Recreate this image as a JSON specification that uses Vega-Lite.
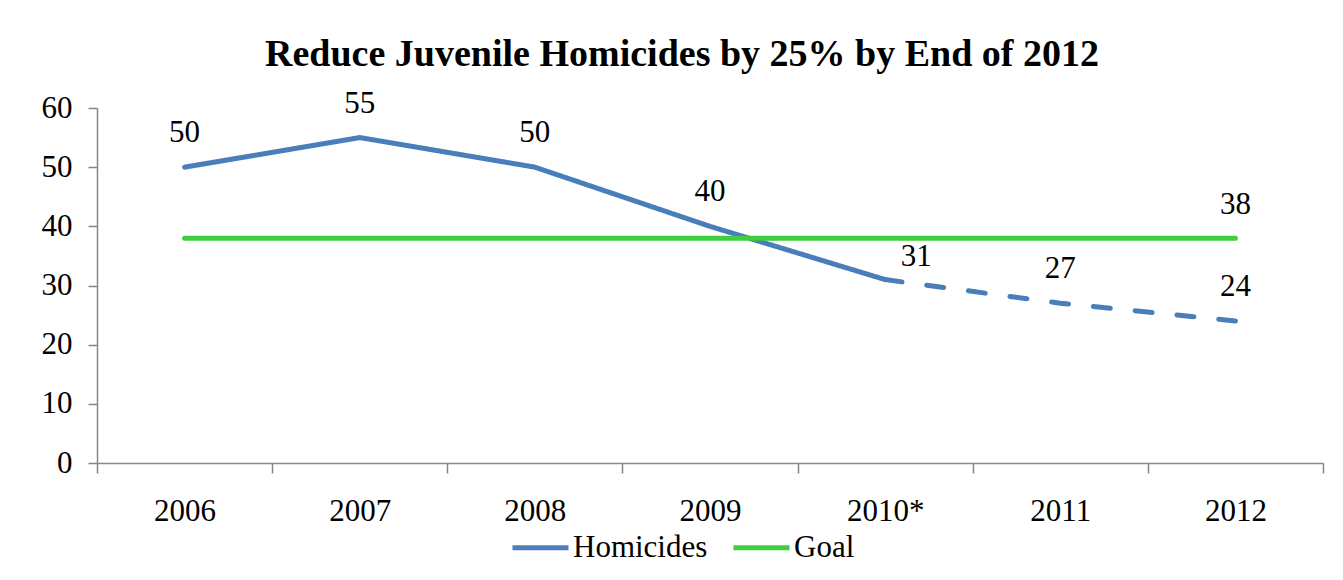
{
  "$schema": "https://vega.github.io/schema/vega-lite/v6.json",
  "width": 1226,
  "height": 355,
  "autosize": "none",
  "padding": {"left": 97, "top": 108, "right": 20, "bottom": 117},
  "background": "white",
  "title": {
    "text": "Reduce Juvenile Homicides by 25% by End of 2012",
    "font": "Liberation Serif",
    "fontSize": 38,
    "fontWeight": "bold",
    "color": "black",
    "anchor": "middle",
    "dx": -28,
    "offset": 14
  },
  "config": {
    "view": {"stroke": null},
    "font": "Liberation Serif"
  },
  "data": {
    "values": [
      {"year": "2006", "value": 50, "series": "Homicides", "part": "actual"},
      {"year": "2007", "value": 55, "series": "Homicides", "part": "actual"},
      {"year": "2008", "value": 50, "series": "Homicides", "part": "actual"},
      {"year": "2009", "value": 40, "series": "Homicides", "part": "actual"},
      {"year": "2010*", "value": 31, "series": "Homicides", "part": "actual"},
      {"year": "2010*", "value": 31, "series": "Homicides", "part": "projected"},
      {"year": "2011", "value": 27, "series": "Homicides", "part": "projected"},
      {"year": "2012", "value": 24, "series": "Homicides", "part": "projected"},
      {"year": "2006", "value": 38, "series": "Goal", "part": "actual"},
      {"year": "2007", "value": 38, "series": "Goal", "part": "actual"},
      {"year": "2008", "value": 38, "series": "Goal", "part": "actual"},
      {"year": "2009", "value": 38, "series": "Goal", "part": "actual"},
      {"year": "2010*", "value": 38, "series": "Goal", "part": "actual"},
      {"year": "2011", "value": 38, "series": "Goal", "part": "actual"},
      {"year": "2012", "value": 38, "series": "Goal", "part": "actual"}
    ]
  },
  "encoding": {
    "x": {
      "field": "year",
      "type": "nominal",
      "sort": null,
      "scale": {"type": "band", "domain": ["2006", "2007", "2008", "2009", "2010*", "2011", "2012"], "paddingInner": 0, "paddingOuter": 0},
      "axis": {
        "title": null,
        "labelAngle": 0,
        "tickBand": "extent",
        "tickSize": 10,
        "tickWidth": 1.5,
        "tickColor": "#868686",
        "domainColor": "#868686",
        "domainWidth": 1.5,
        "labelFont": "Liberation Serif",
        "labelFontSize": 31,
        "labelColor": "black",
        "labelPadding": 23,
        "grid": false
      }
    },
    "y": {
      "field": "value",
      "type": "quantitative",
      "scale": {"domain": [0, 60], "nice": false, "zero": true},
      "axis": {
        "title": null,
        "values": [0, 10, 20, 30, 40, 50, 60],
        "tickSize": 9,
        "tickWidth": 1.5,
        "tickColor": "#868686",
        "domainColor": "#868686",
        "domainWidth": 1.5,
        "labelFont": "Liberation Serif",
        "labelFontSize": 31,
        "labelColor": "black",
        "labelPadding": 16,
        "grid": false
      }
    }
  },
  "layer": [
    {
      "mark": {"type": "line", "strokeWidth": 5, "strokeCap": "round", "strokeJoin": "round"},
      "encoding": {
        "color": {
          "field": "series",
          "type": "nominal",
          "scale": {"domain": ["Homicides", "Goal"], "range": ["#4A7EBB", "#3DCF3D"]},
          "legend": {
            "title": null,
            "orient": "none",
            "direction": "horizontal",
            "legendX": 413,
            "legendY": 409,
            "symbolType": "stroke",
            "symbolSize": 3136,
            "symbolStrokeWidth": 5,
            "labelFont": "Liberation Serif",
            "labelFontSize": 31,
            "labelColor": "black",
            "labelOffset": 2,
            "columnPadding": 15
          }
        },
        "strokeDash": {
          "field": "part",
          "type": "nominal",
          "scale": {"domain": ["actual", "projected"], "range": [[1, 0], [17, 25]]},
          "legend": null
        }
      }
    },
    {
      "transform": [{"filter": "datum.series == 'Homicides' && datum.year != '2010*'"}],
      "mark": {"type": "text", "dy": -34, "fontSize": 31, "font": "Liberation Serif", "color": "black"},
      "encoding": {"text": {"field": "value", "type": "quantitative"}}
    },
    {
      "transform": [{"filter": "datum.series == 'Homicides' && datum.year == '2010*' && datum.part == 'actual'"}],
      "mark": {"type": "text", "dy": -23, "dx": 31, "fontSize": 31, "font": "Liberation Serif", "color": "black"},
      "encoding": {"text": {"field": "value", "type": "quantitative"}}
    },
    {
      "transform": [{"filter": "datum.series == 'Goal' && datum.year == '2012'"}],
      "mark": {"type": "text", "dy": -33, "fontSize": 31, "font": "Liberation Serif", "color": "black"},
      "encoding": {"text": {"field": "value", "type": "quantitative"}}
    }
  ]
}
